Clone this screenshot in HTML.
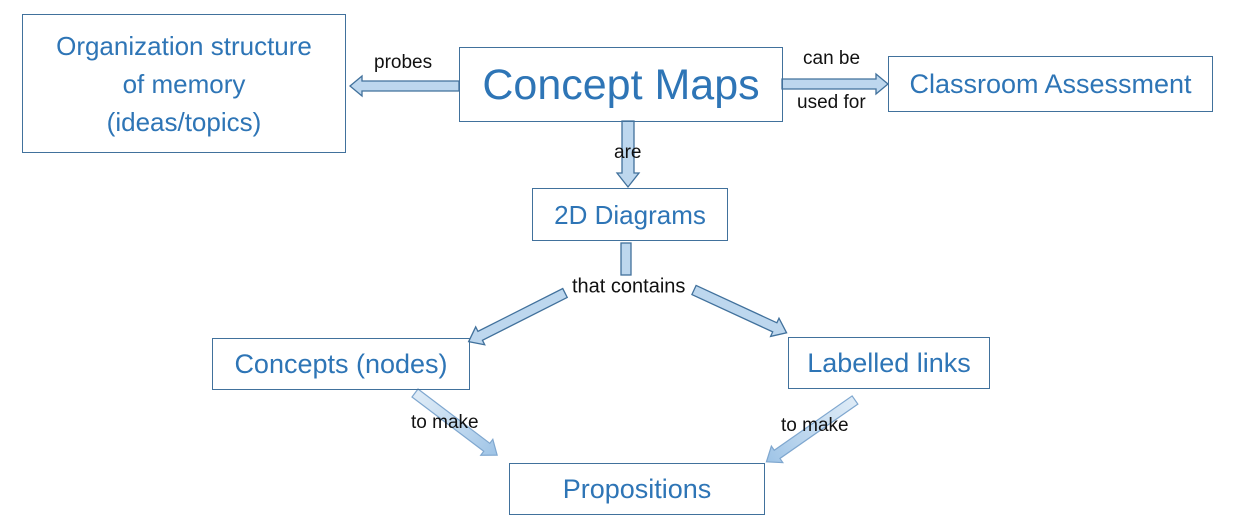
<!DOCTYPE html>
<html><head><meta charset="utf-8"><style>
body{margin:0;width:1234px;height:532px;background:#fff;position:relative;overflow:hidden;font-family:"Liberation Sans",sans-serif}
.b{position:absolute;border:1.5px solid #41719c;box-sizing:border-box;display:flex;align-items:center;justify-content:center;text-align:center;color:#2e75b6;font-size:26px;line-height:38px;white-space:nowrap}
.l{position:absolute;font-size:19px;color:#111;white-space:nowrap;transform:translateY(-50%)}
svg{position:absolute;left:0;top:0}
</style></head><body>
<svg width="1234" height="532">
<defs>
<linearGradient id="g1" x1="0" y1="0" x2="1" y2="0"><stop offset="0" stop-color="#bdd7ee" stop-opacity=".5"/><stop offset="1" stop-color="#9dc3e6"/></linearGradient>
</defs>
<g fill="#bdd7ee" stroke="#41719c" stroke-width="1.3">
<g transform="translate(459,86) rotate(180)"><polygon points="0,-5 97,-5 97,-10 109,0 97,10 97,5 0,5"/></g>
<g transform="translate(782,84)"><polygon points="0,-5 94,-5 94,-10 106,0 94,10 94,5 0,5"/></g>
<g transform="translate(628,121) rotate(90)"><polygon points="0,-6 52,-6 52,-11 66,0 52,11 52,6 0,6"/></g>
<rect x="621" y="243" width="10" height="32"/>
<g transform="translate(565,293) rotate(153.2)"><polygon points="0,-5 95,-5 95,-10 108,0 95,10 95,5 0,5"/></g>
<g transform="translate(694,290) rotate(24.8)"><polygon points="0,-5 89,-5 89,-10 102,0 89,10 89,5 0,5"/></g>
</g>
<g fill="url(#g1)" stroke="#7fa7cf" stroke-width="1.2">
<g transform="translate(415,393) rotate(37.1)"><polygon points="0,-5 90,-5 90,-10 103,0 90,10 90,5 0,5"/></g>
<g transform="translate(855,400) rotate(145.1)"><polygon points="0,-5 95,-5 95,-10 108,0 95,10 95,5 0,5"/></g>
</g>
</svg>
<div class="b" style="left:22px;top:14px;width:324px;height:139px">Organization structure<br>of memory<br>(ideas/topics)</div>
<div class="b" style="left:459px;top:47px;width:324px;height:75px;font-size:43px">Concept Maps</div>
<div class="b" style="left:888px;top:56px;width:325px;height:56px;font-size:27px">Classroom Assessment</div>
<div class="b" style="left:532px;top:188px;width:196px;height:53px">2D Diagrams</div>
<div class="b" style="left:212px;top:338px;width:258px;height:52px;font-size:27px">Concepts (nodes)</div>
<div class="b" style="left:788px;top:337px;width:202px;height:52px;font-size:27px">Labelled links</div>
<div class="b" style="left:509px;top:463px;width:256px;height:52px;font-size:27px">Propositions</div>
<div class="l" style="left:374px;top:63px">probes</div>
<div class="l" style="left:803px;top:59px">can be</div>
<div class="l" style="left:797px;top:103px">used for</div>
<div class="l" style="left:614px;top:153px">are</div>
<div class="l" style="left:572px;top:287px;font-size:20px">that contains</div>
<div class="l" style="left:411px;top:423px">to make</div>
<div class="l" style="left:781px;top:426px">to make</div>
</body></html>
